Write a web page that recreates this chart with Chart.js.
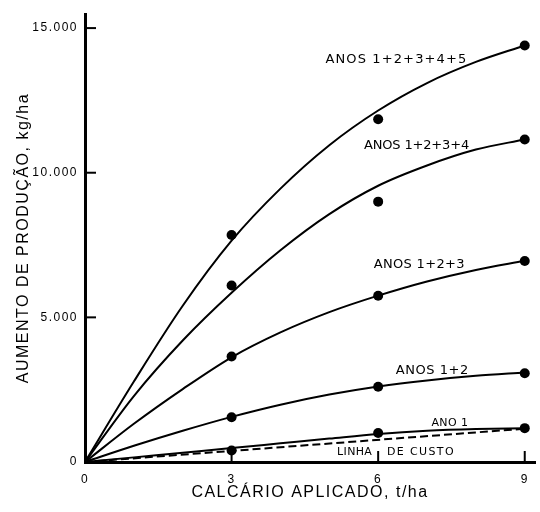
<!DOCTYPE html>
<html><head><meta charset="utf-8">
<script src="https://cdn.jsdelivr.net/npm/chart.js@4.4.1/dist/chart.umd.min.js"></script>
<style>html,body{margin:0;padding:0;background:#fff}canvas{display:block}</style>
</head><body>
<canvas id="c" width="540" height="512"></canvas>
<script>
// ---- data ----
const curveDoses = [0, 1, 2, 3, 4, 5, 6, 7, 8, 9];
const curveAnos12345 = [0, 2780, 5400, 7650, 9450, 10950, 12150, 13100, 13830, 14400];
const curveAnos1234  = [0, 2280, 4200, 5850, 7320, 8570, 9550, 10250, 10800, 11150];
const curveAnos123   = [0, 1320, 2520, 3620, 4480, 5180, 5750, 6240, 6640, 6960];
const curveAnos12    = [0, 560, 1080, 1560, 1980, 2330, 2610, 2820, 2980, 3090];
const curveAno1      = [0, 160, 320, 480, 645, 810, 970, 1080, 1140, 1170];

const obsDoses = [3, 6, 9];
const obsAnos12345 = [7850, 11850, 14400];
const obsAnos1234  = [6100, 9000, 11150];
const obsAnos123   = [3650, 5750, 6950];
const obsAnos12    = [1550, 2600, 3070];
const obsAno1      = [400, 1000, 1170];

const costDoses = [0, 9];
const costLine  = [0, 1150];

const xTickValues = [0, 3, 6, 9];
const xTickLabels = ['0', '3', '6', '9'];
const yTickValues = [0, 5000, 10000, 15000];
const yTickLabels = ['0', '5.000', '10.000', '15.000'];

const seriesLabels = ['ANOS 1+2+3+4+5', 'ANOS 1+2+3+4', 'ANOS 1+2+3', 'ANOS 1+2', 'ANO 1'];
const costLabels = ['LINHA', 'DE CUSTO'];
const xTitle = 'CALCÁRIO APLICADO, t/ha';
const yTitle = 'AUMENTO DE PRODUÇÃO, kg/ha';

// ---- presentation ----
const FONT = '"Liberation Sans", Arial, sans-serif';
const LABEL_FONT = '"DejaVu Sans", sans-serif';
const toXY = (xs, ys) => xs.map((v, i) => ({x: v, y: ys[i]}));

const curves = [curveAnos12345, curveAnos1234, curveAnos123, curveAnos12, curveAno1];
const obs = [obsAnos12345, obsAnos1234, obsAnos123, obsAnos12, obsAno1];

const datasets = [];
curves.forEach((c, i) => datasets.push({
  label: seriesLabels[i] + ' (curva)', data: toXY(curveDoses, c), showLine: true,
  borderColor: '#000', borderWidth: 2, pointRadius: 0, cubicInterpolationMode: 'monotone', fill: false
}));
datasets.push({
  label: 'LINHA DE CUSTO', data: toXY(costDoses, costLine), showLine: true,
  borderColor: '#000', borderWidth: 2, borderDash: [8, 4], pointRadius: 0, fill: false
});
obs.forEach((o, i) => datasets.push({
  label: seriesLabels[i], data: toXY(obsDoses, o), showLine: false,
  pointRadius: 5, pointBackgroundColor: '#000', pointBorderColor: '#000', pointBorderWidth: 0
}));

// annotation placement (data coords, target width in px)
const labelPlacement = [
  {text: seriesLabels[0], x: 4.92, y: 13900, w: 142, size: 13},
  {text: seriesLabels[1], x: 5.71, y: 10920, w: 105, size: 13},
  {text: seriesLabels[2], x: 5.91, y: 6840,  w: 91,  size: 13},
  {text: seriesLabels[3], x: 6.36, y: 3170,  w: 73,  size: 13},
  {text: seriesLabels[4], x: 7.09, y: 1336,  w: 37,  size: 11},
  {text: costLabels[0],   x: 5.16, y: 342,   w: 35,  size: 11},
  {text: costLabels[1],   x: 6.18, y: 342,   w: 68,  size: 11}
];

const decor = {
  id: 'decor',
  beforeDraw(chart) { chart.ctx.letterSpacing = '1.5px'; },
  afterDatasetsDraw(chart) {
    const {ctx, scales: {x, y}, chartArea: a} = chart;
    ctx.save();
    ctx.strokeStyle = '#000'; ctx.lineWidth = 2;
    xTickValues.forEach(v => { if (v === 0) return; const px = x.getPixelForValue(v);
      ctx.beginPath(); ctx.moveTo(px, a.bottom); ctx.lineTo(px, a.bottom - 11); ctx.stroke(); });
    yTickValues.forEach(v => { if (v === 0) return; const py = y.getPixelForValue(v);
      ctx.beginPath(); ctx.moveTo(a.left, py); ctx.lineTo(a.left + 11, py); ctx.stroke(); });
    ctx.fillStyle = '#000'; ctx.textBaseline = 'middle'; ctx.textAlign = 'left';
    labelPlacement.forEach(l => {
      ctx.font = l.size + 'px ' + LABEL_FONT;
      ctx.letterSpacing = '0px';
      const w = ctx.measureText(l.text).width;
      ctx.letterSpacing = ((l.w - w) / l.text.length) + 'px';
      ctx.fillText(l.text, x.getPixelForValue(l.x), y.getPixelForValue(l.y));
    });
    ctx.restore();
  }
};

new Chart(document.getElementById('c'), {
  type: 'scatter',
  data: {datasets},
  plugins: [decor],
  options: {
    responsive: false, animation: false, devicePixelRatio: 1,
    layout: {padding: {left: 10, right: 0, top: 10, bottom: 6}},
    plugins: {legend: {display: false}, tooltip: {enabled: false}},
    scales: {
      x: {
        type: 'linear', min: 0, max: 9.21,
        afterBuildTicks: s => { s.ticks = xTickValues.map(v => ({value: v})); },
        afterFit: s => { s.height = 44; },
        grid: {display: false, drawTicks: false},
        border: {display: true, color: '#000', width: 3},
        ticks: {color: '#000', padding: 10, font: {family: FONT, size: 12},
          callback: v => xTickLabels[xTickValues.indexOf(v)], maxRotation: 0},
        title: {display: true, text: xTitle, color: '#000', font: {family: FONT, size: 16}}
      },
      y: {
        type: 'linear', min: 0, max: 15480,
        afterBuildTicks: s => { s.ticks = yTickValues.map(v => ({value: v})); },
        afterFit: s => { s.width = 75; },
        grid: {display: false, drawTicks: false},
        border: {display: true, color: '#000', width: 3},
        ticks: {color: '#000', padding: 7, font: {family: FONT, size: 12},
          callback: v => yTickLabels[yTickValues.indexOf(v)]},
        title: {display: true, text: yTitle, color: '#000', font: {family: FONT, size: 16}}
      }
    }
  }
});
</script>
</body></html>
